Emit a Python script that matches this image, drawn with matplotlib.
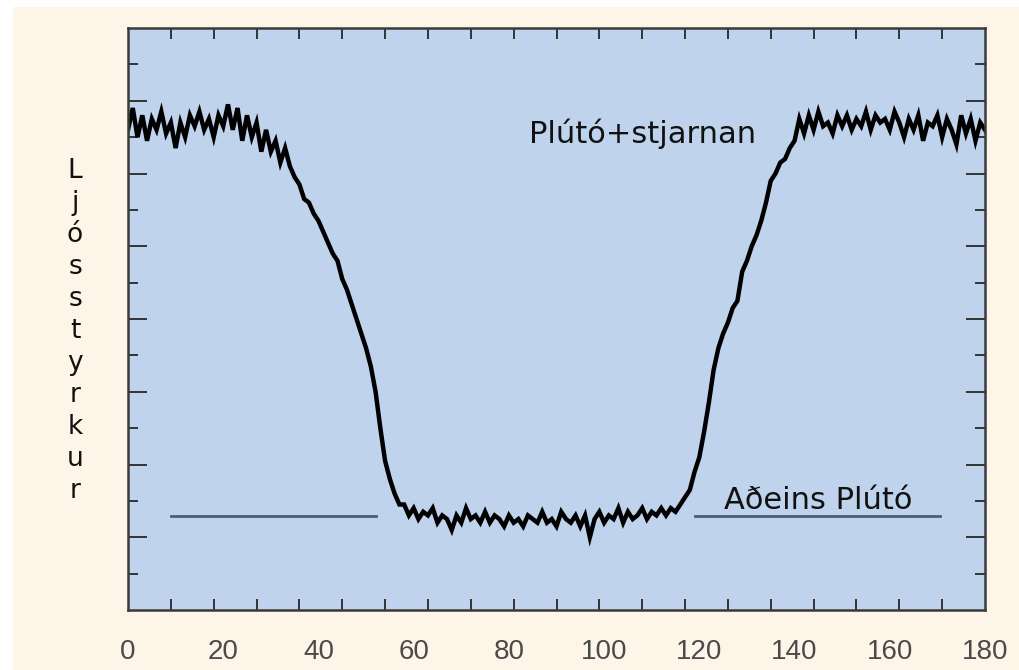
import numpy as np
import matplotlib
matplotlib.use("Agg")
import matplotlib.pyplot as plt
from matplotlib.patches import Rectangle

# light curve, one value per time unit (0..180)
flux = [
    13.2, 13.8, 13.0, 13.6, 12.9, 13.5, 13.2, 13.7, 13.1, 13.4,
    12.7, 13.4, 13.0, 13.6, 13.3, 13.7, 13.2, 13.5, 13.0, 13.6,
    13.3, 13.9, 13.2, 13.8, 12.9, 13.6, 13.0, 13.4, 12.6, 13.2,
    12.6, 12.9, 12.3, 12.7, 12.2, 11.9, 11.7, 11.3, 11.2, 10.9,
    10.7, 10.4, 10.1, 9.8, 9.6, 9.1, 8.8, 8.4, 8.0, 7.6,
    7.2, 6.7, 6.0, 5.0, 4.1, 3.6, 3.2, 2.9, 2.9, 2.6,
    2.8, 2.5, 2.7, 2.6, 2.8, 2.4, 2.6, 2.5, 2.2, 2.6,
    2.4, 2.8, 2.5, 2.6, 2.4, 2.7, 2.4, 2.6, 2.5, 2.3,
    2.6, 2.4, 2.5, 2.3, 2.6, 2.5, 2.4, 2.7, 2.4, 2.5,
    2.3, 2.7, 2.5, 2.4, 2.6, 2.3, 2.6, 2.0, 2.5, 2.7,
    2.4, 2.6, 2.5, 2.8, 2.4, 2.7, 2.5, 2.6, 2.8, 2.5,
    2.7, 2.6, 2.8, 2.6, 2.8, 2.7, 2.9, 3.1, 3.3, 3.8,
    4.2, 4.9, 5.7, 6.6, 7.2, 7.6, 7.9, 8.3, 8.5, 9.3,
    9.6, 10.0, 10.3, 10.7, 11.2, 11.8, 12.0, 12.3, 12.4, 12.7,
    12.9, 13.5, 13.1, 13.6, 13.2, 13.7, 13.3, 13.4, 13.1, 13.6,
    13.3, 13.6, 13.2, 13.5, 13.3, 13.7, 13.2, 13.6, 13.4, 13.5,
    13.2, 13.7, 13.4, 13.0, 13.5, 13.2, 13.6, 12.9, 13.4, 13.3,
    13.6, 13.0, 13.5, 13.2, 12.8, 13.6, 13.1, 13.5, 12.9, 13.4,
    13.2,
]
time = np.arange(len(flux))

pluto_level = 2.58
pluto_left = [9, 52]
pluto_right = [119, 170.5]

xticks = [0, 20, 40, 60, 80, 100, 120, 140, 160, 180]
xminor = np.arange(9, 172, 9)
ymajor = [2, 4, 6, 8, 10, 12, 14]
yminor = [1, 3, 5, 7, 9, 11, 13, 15]

fig = plt.figure(figsize=(10.2, 6.7), dpi=100, facecolor="white")
fig.patches.append(Rectangle((13 / 1020, 0), 1, 1 - 7 / 670, transform=fig.transFigure,
                             facecolor="#fdf5e7", edgecolor="none", zorder=-10))
ax = fig.add_axes([128 / 1020, 60 / 670, 857 / 1020, 582 / 670])
ax.set_facecolor("#bfd4ec")

ax.plot(time, flux, color="black", lw=3.2, solid_joinstyle="miter")
ax.plot(pluto_left, [pluto_level] * 2, color="#4d5d73", lw=2)
ax.plot(pluto_right, [pluto_level] * 2, color="#4d5d73", lw=2)

ax.text(108, 13.1, "Plútó+stjarnan", fontsize=22, ha="center", va="center", color="#111111")
ax.text(145, 3.0, "Aðeins Plútó", fontsize=22, ha="center", va="center", color="#111111")

ax.set_xlim(0, 180)
ax.set_ylim(0, 16)
ax.set_xticks(xticks)
ax.set_xticks(xminor, minor=True)
ax.set_yticks(ymajor)
ax.set_yticks(yminor, minor=True)
ax.set_yticklabels([])
ax.tick_params(axis="x", which="major", length=0, pad=21, labelsize=20,
               labelcolor="#4a4a4a")
ax.tick_params(axis="x", which="minor", direction="in", length=8, width=1.4,
               color="#333333", top=True, bottom=True)
ax.tick_params(axis="y", which="major", direction="in", length=14, width=1.4,
               color="#333333", left=True, right=True)
ax.tick_params(axis="y", which="minor", direction="in", length=7, width=1.4,
               color="#333333", left=True, right=True)
for lab in ax.get_xticklabels():
    lab.set_family("Liberation Sans")
for s in ax.spines.values():
    s.set_color("#3a3a3a")
    s.set_linewidth(1.8)

fig.text(75 / 1020, 1 - 331 / 670, "\n".join("Ljósstyrkur"), fontsize=19,
         ha="center", va="center", linespacing=1.3, color="#111111")

fig.savefig("out.png", dpi=100)
